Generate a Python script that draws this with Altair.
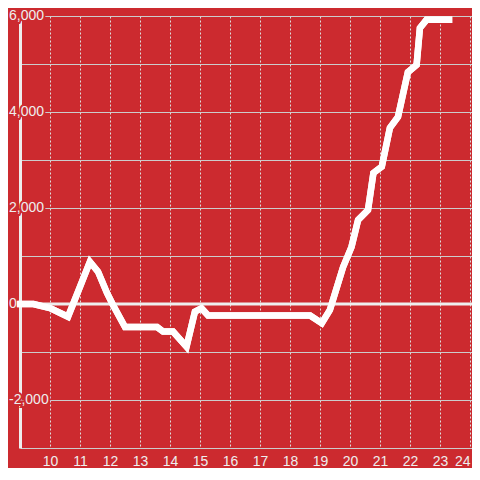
import altair as alt
import pandas as pd

# ---- data ----
hours = [9.0, 9.45, 10.0, 10.6, 11.0, 11.33, 11.6, 11.9, 12.1, 12.5, 13.57, 13.77,
         14.1, 14.55, 14.83, 15.05, 15.27, 18.67, 19.06, 19.33, 19.77, 20.05, 20.27,
         20.6, 20.78, 21.06, 21.33, 21.6, 21.93, 22.22, 22.33, 22.55, 23.3]
values = [0, 0, -85, -265, 360, 880, 675, 230, -20, -480, -480, -575,
          -575, -890, -160, -90, -240, -240, -400, -125, 770, 1190, 1750,
          1960, 2730, 2860, 3670, 3900, 4830, 4980, 5750, 5920, 5920]

x_ticks = list(range(10, 25))
y_grid = list(range(-3000, 7000, 1000))
y_label_values = [6000, 4000, 2000, 0, -2000]
y_label_texts = ["6,000", "4,000", "2,000", "0", "-2,000"]
zero_value = [0]

RED = "#cc2a2f"
LIGHT = "#eeeeee"
GRID = "#cccccc"
FONT = "Liberation Sans"

df = pd.DataFrame({"hour": hours, "value": values})
lab_df = pd.DataFrame({"value": y_label_values, "label": y_label_texts})
zero_df = pd.DataFrame({"value": zero_value})

PLOT_W = 452
PLOT_H = 432

xscale = alt.Scale(domain=[9, 9 + PLOT_W / 30], nice=False, zero=False)
yscale = alt.Scale(domain=[-3000, 6000], nice=False, zero=False)

xaxis = alt.Axis(values=x_ticks, grid=True, gridDash=[2, 2], gridColor="#dddddd",
                 gridWidth=1, domain=False, ticks=False, labelPadding=6,
                 labelFontSize=14, labelColor=LIGHT, labelFont=FONT,
                 labelFlush=5, labelFlushOffset=0,
                 title=None, zindex=0)
yaxis = alt.Axis(values=y_grid, grid=True, gridColor=GRID, gridWidth=1,
                 domain=True, domainColor=LIGHT, domainWidth=3, ticks=False,
                 labels=False, title=None, zindex=0)

Y = alt.Y("value:Q", scale=yscale, axis=yaxis)

line = alt.Chart(df).mark_line(color="white", strokeWidth=6.5, strokeCap="square",
                               strokeJoin="miter").encode(
    x=alt.X("hour:Q", scale=xscale, axis=xaxis),
    y=Y,
)

halo = alt.Chart(lab_df).mark_text(align="left", baseline="middle", fontSize=14,
                                   font=FONT, color=RED, stroke=RED, strokeWidth=4).encode(
    x=alt.value(-11), y=Y, text="label:N")

labels = alt.Chart(lab_df).mark_text(align="left", baseline="middle", fontSize=14,
                                     font=FONT, color=LIGHT).encode(
    x=alt.value(-11), y=Y, text="label:N")

zero_rule = alt.Chart(zero_df).mark_rule(color=LIGHT, strokeWidth=3).encode(
    y=Y, x=alt.value(-3), x2=alt.value(PLOT_W))

chart = alt.layer(line, halo, labels, zero_rule, line).properties(
    width=PLOT_W, height=PLOT_H, autosize="none",
    padding={"left": 12, "top": 8, "right": 0, "bottom": 20},
    background=RED,
).configure_view(strokeWidth=0)

chart.save("out.html", embed_options={"renderer": "svg", "actions": False})
